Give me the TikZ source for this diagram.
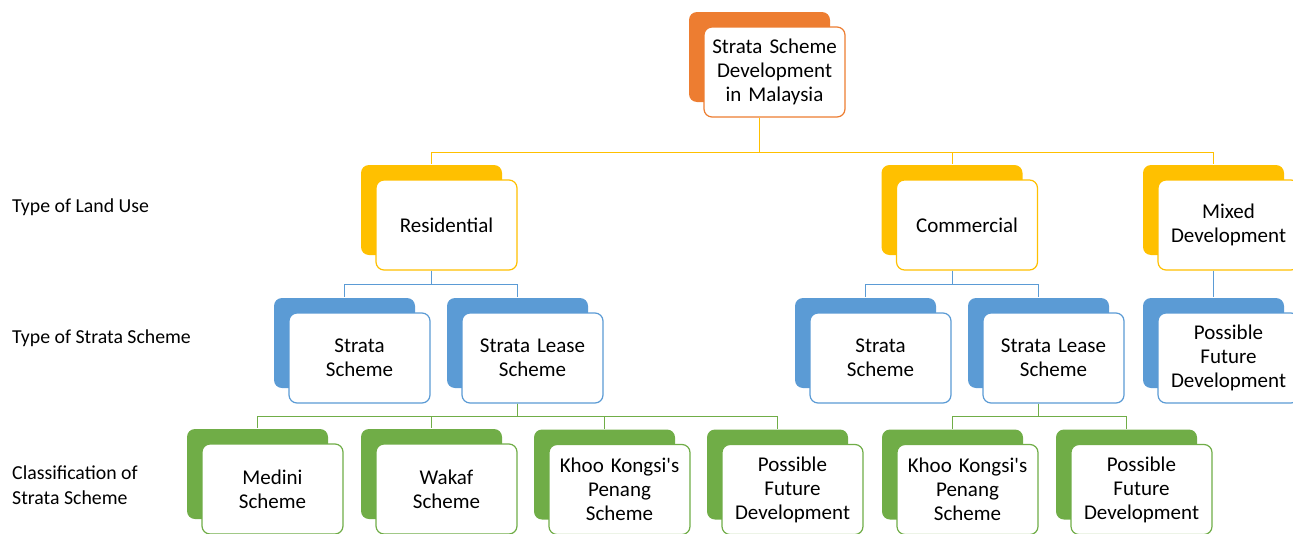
\documentclass[tikz,border=0pt]{standalone}
\usepackage{fontspec}
\setmainfont{Carlito}
\usepackage{xcolor}
\usetikzlibrary{shadows}
\definecolor{rootcol}{HTML}{ED7D31}
\definecolor{usecol}{HTML}{FFC000}
\definecolor{typecol}{HTML}{5B9BD5}
\definecolor{classcol}{HTML}{70AD47}
\definecolor{ink}{HTML}{000000}

\begin{document}
\begin{tikzpicture}[
  x=1pt, y=-1pt,
  card/.style={rectangle, rounded corners=8pt, draw=#1, fill=white, line width=1.2pt,
    minimum width=141pt, minimum height=90pt, inner sep=2pt, align=center, text width=134pt,
    text=ink, font=\fontsize{21}{24}\selectfont,
    general shadow={fill=#1, shadow xshift=-15pt, shadow yshift=15pt}},
  level/.style={anchor=west, align=left, text=ink, inner sep=0pt, font=\fontsize{19.8}{25}\selectfont},
  link/.style={draw=#1, line width=0.9pt},
]
\useasboundingbox (0,0) rectangle (1293,533);
\clip (0,0) rectangle (1293,533);

% row labels on the left
\node[level] (landuse) at (12,207.5) {Type of Land Use};
\node[level] (schemetype) at (12,338.5) {Type of Strata Scheme};
\node[level] (classif) at (12,485.5) {Classification of\\Strata Scheme};

% root
\node[card=rootcol] (dev) at (774.5,72) {Strata Scheme\\Development\\in Malaysia};

% land use
\node[card=usecol] (res) at (446.5,225) {Residential};
\node[card=usecol] (com) at (967,225) {Commercial};
\node[card=usecol] (mix) at (1228.5,225) {Mixed\\Development};

% strata scheme types
\node[card=typecol] (resS) at (359.5,358) {Strata\\Scheme};
\node[card=typecol] (resL) at (532.5,358) {Strata Lease\\Scheme};
\node[card=typecol] (comS) at (880.5,358) {Strata\\Scheme};
\node[card=typecol] (comL) at (1053.5,358) {Strata Lease\\Scheme};
\node[card=typecol] (mixF) at (1228.5,358) {Possible\\Future\\Development};

% classification
\node[card=classcol] (medini) at (272.5,489) {Medini\\Scheme};
\node[card=classcol] (wakaf) at (446.5,489) {Wakaf\\Scheme};
\node[card=classcol] (khooR) at (619.5,489.5) {Khoo Kongsi\textquotesingle s\\Penang\\Scheme};
\node[card=classcol] (futR) at (792.5,489.5) {Possible\\Future\\Development};
\node[card=classcol] (khooC) at (967.5,489.5) {Khoo Kongsi\textquotesingle s\\Penang\\Scheme};
\node[card=classcol] (futC) at (1141.5,489.5) {Possible\\Future\\Development};

% connectors (elbow from parent down to a bus, across, then down)
\foreach \kid in {res,com,mix}
  \draw[link=usecol] ([xshift=-15pt]dev.south) -- ++(0,34.5) -| ([shift={(-15pt,15pt)}]\kid.north);
\foreach \kid in {resS,resL}
  \draw[link=typecol] ([xshift=-15pt]res.south) -- ++(0,14) -| ([shift={(-15pt,15pt)}]\kid.north);
\foreach \kid in {comS,comL}
  \draw[link=typecol] ([xshift=-15pt]com.south) -- ++(0,14) -| ([shift={(-15pt,15pt)}]\kid.north);
\draw[link=typecol] ([xshift=-15pt]mix.south) -- ([shift={(-15pt,15pt)}]mixF.north);
\foreach \kid in {medini,wakaf,khooR,futR}
  \draw[link=classcol] ([xshift=-15pt]resL.south) -- ++(0,13) -| ([shift={(-15pt,15pt)}]\kid.north);
\foreach \kid in {khooC,futC}
  \draw[link=classcol] ([xshift=-15pt]comL.south) -- ++(0,13) -| ([shift={(-15pt,15pt)}]\kid.north);
\end{tikzpicture}
\end{document}
